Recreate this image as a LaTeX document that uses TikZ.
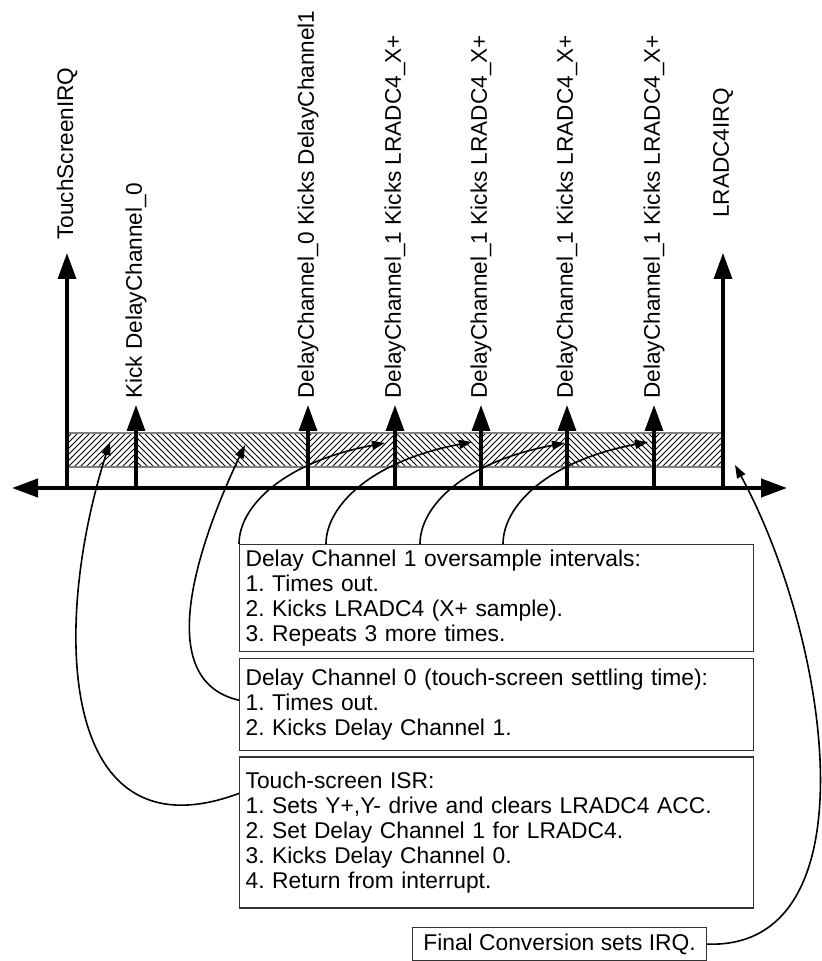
\documentclass[tikz,border=0pt]{standalone}
\usepackage{fontspec}
\setmainfont{Liberation Sans}
\usetikzlibrary{arrows.meta, positioning, patterns}
\frenchspacing

\begin{document}
\begin{tikzpicture}[
    x=0.5pt, y=-0.5pt,
    font=\fontsize{11.3}{13.5}\selectfont,
    axis/.style={line width=2pt, {Triangle[length=13pt, width=9pt]}-{Triangle[length=13pt, width=9pt]}},
    tick/.style={line width=1.6pt, -{Triangle[length=13pt, width=9pt]}},
    event/.style={rotate=90, anchor=west, inner sep=0pt},
    band/.style={draw=gray, line width=0.6pt},
    note/.style={rectangle, draw=black!80, line width=0.6pt, text width=251pt, align=left, inner xsep=3pt, inner ysep=0pt, anchor=north west, font=\fontsize{11.4}{12.5}\selectfont},
    flag/.style={rectangle, draw=black!80, line width=0.6pt, minimum width=147pt, minimum height=16.5pt, inner sep=0pt, anchor=north west, font=\fontsize{11.4}{13.5}\selectfont},
    link/.style={line width=0.8pt, -{Triangle[length=6.5pt, width=4.5pt]}}
  ]
  \useasboundingbox (0,0) rectangle (821,961);

  % time axis
  \coordinate (axL) at (12,488);
  \coordinate (axR) at (787,488);
  \foreach \n/\x in {a/67, b/136, c/308, d/395, e/481, f/567, g/654, h/723}
    \coordinate (t\n) at (\x,488);

  % hatched band between the events
  \foreach \xa/\xb/\pat in {67/136/north east lines, 136/308/north west lines, 308/395/north east lines, 395/481/north west lines, 481/567/north east lines, 567/654/north west lines, 654/723/north east lines}
    \path[pattern=\pat] (\xa,433) rectangle (\xb,467);
  \draw[band] (67,433) rectangle (723,467);

  % event labels
  \node[event] (tsirq) at (67,240) {TouchScreenIRQ};
  \node[event] (kick0) at (136,399) {Kick DelayChannel\_0};
  \node[event] (kick1) at (308,399) {DelayChannel\_0 Kicks DelayChannel1};
  \node[event] (xp1) at (395,399) {DelayChannel\_1 Kicks LRADC4\_X+};
  \node[event] (xp2) at (481,399) {DelayChannel\_1 Kicks LRADC4\_X+};
  \node[event] (xp3) at (567,399) {DelayChannel\_1 Kicks LRADC4\_X+};
  \node[event] (xp4) at (654,399) {DelayChannel\_1 Kicks LRADC4\_X+};
  \node[event] (adcirq) at (723,218) {LRADC4IRQ};

  \draw[tick, shorten >=6.5pt] (ta) -- (tsirq.west);
  \draw[tick, shorten >=3pt] (tb) -- (kick0.west);
  \draw[tick, shorten >=3pt] (tc) -- (kick1.west);
  \draw[tick, shorten >=3pt] (td) -- (xp1.west);
  \draw[tick, shorten >=3pt] (te) -- (xp2.west);
  \draw[tick, shorten >=3pt] (tf) -- (xp3.west);
  \draw[tick, shorten >=3pt] (tg) -- (xp4.west);
  \draw[tick, shorten >=17.5pt] (th) -- (adcirq.west);
  \draw[axis] (axL) -- (axR);

  % notes
  \node[note, minimum height=53.5pt] (dc1) at (239,544) {Delay Channel 1 oversample intervals:\\1. Times out.\\2. Kicks LRADC4 (X+ sample).\\3. Repeats 3 more times.};
  \node[note, minimum height=46pt, below=3pt of dc1.south west, anchor=north west] (dc0) {Delay Channel 0 (touch-screen settling time):\\1. Times out.\\2. Kicks Delay Channel 1.};
  \node[note, minimum height=75.5pt, below=2.5pt of dc0.south west, anchor=north west] (isr) {Touch-screen ISR:\\1. Sets Y+,Y- drive and clears LRADC4 ACC.\\2. Set Delay Channel 1 for LRADC4.\\3. Kicks Delay Channel 0.\\4. Return from interrupt.};
  \node[flag] (fin) at (412,927) {Final Conversion sets IRQ.};

  % pointers into the band
  \coordinate (pTS) at (110,442);
  \coordinate (pD0) at (245,445);
  \coordinate (pX1) at (385,443);
  \coordinate (pX2) at (472,442);
  \coordinate (pX3) at (565,443);
  \coordinate (pX4) at (648,442);
  \coordinate (pIRQ) at (735,465);

  \draw[link] ([yshift=-18.5pt]isr.north west) .. controls (60,860) and (50,630) .. (pTS);
  \draw[link] ([yshift=-21pt]dc0.north west) .. controls (150,680) and (200,540) .. (pD0);
  \foreach \dx/\p in {0pt/pX1, 43.5pt/pX2, 90.5pt/pX3, 132pt/pX4}
    \draw[link] ([xshift=\dx]dc1.north west) .. controls +(0,-38) and +(-101,19) .. (\p);
  \draw[link] (fin.east) .. controls (875,950) and (830,640) .. (pIRQ);
\end{tikzpicture}
\end{document}
